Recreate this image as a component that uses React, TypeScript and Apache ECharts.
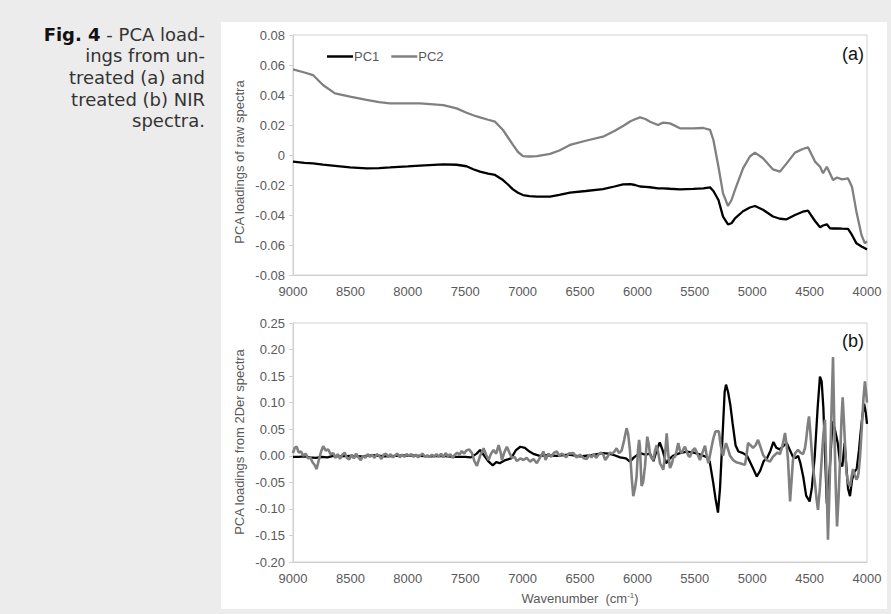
import React, { useEffect, useRef } from "react";
import * as echarts from "echarts";

// ---------- Panel (a): PCA loadings of raw spectra ----------
const rawWavenumbers = [
  9000, 8900, 8826, 8739, 8634, 8503, 8360, 8250, 8155, 8000, 7894, 7691, 7575,
  7488, 7430, 7371, 7300, 7240, 7171, 7130, 7084, 7040, 6997, 6940, 6874, 6761,
  6680, 6587, 6450, 6300, 6200, 6125, 6060, 6021, 5977, 5930, 5890, 5820, 5777,
  5716, 5629, 5513, 5425, 5367, 5338, 5294, 5254, 5211, 5180, 5150, 5080, 5020,
  4976, 4906, 4819, 4758, 4700, 4627, 4560, 4514, 4453, 4409, 4383, 4350, 4322,
  4296, 4261, 4218, 4165, 4131, 4092, 4048, 4018, 4000,
];
const rawPC1 = [
  -0.0044, -0.0052, -0.0056, -0.0064, -0.0072, -0.0082, -0.0089, -0.0087, -0.0083,
  -0.0076, -0.0071, -0.0062, -0.0065, -0.0075, -0.0095, -0.0111, -0.0124, -0.0133,
  -0.0167, -0.0195, -0.0229, -0.0252, -0.0267, -0.0274, -0.0278, -0.0278, -0.0266,
  -0.0251, -0.0240, -0.0227, -0.0210, -0.0196, -0.0194, -0.0200, -0.0210, -0.0212,
  -0.0215, -0.0222, -0.0222, -0.0225, -0.0229, -0.0226, -0.0222, -0.0216, -0.0240,
  -0.0300, -0.0411, -0.0462, -0.0455, -0.0422, -0.0375, -0.0350, -0.0340, -0.0365,
  -0.0410, -0.0425, -0.0429, -0.0400, -0.0378, -0.0371, -0.0440, -0.0482, -0.0470,
  -0.0462, -0.0489, -0.0490, -0.0489, -0.0491, -0.0493, -0.0533, -0.0589, -0.0610,
  -0.0622, -0.0630,
];
const rawPC2 = [
  0.0571, 0.0550, 0.0533, 0.0467, 0.0411, 0.0389, 0.0367, 0.0352, 0.0344, 0.0344,
  0.0344, 0.0333, 0.0311, 0.0282, 0.0265, 0.0251, 0.0235, 0.0222, 0.0167, 0.0120,
  0.0067, 0.0020, -0.0007, -0.0010, -0.0007, 0.0007, 0.0030, 0.0067, 0.0095, 0.0122,
  0.0160, 0.0193, 0.0225, 0.0238, 0.0251, 0.0240, 0.0222, 0.0200, 0.0216, 0.0211,
  0.0178, 0.0178, 0.0180, 0.0167, 0.0100, -0.0078, -0.0256, -0.0340, -0.0300,
  -0.0233, -0.0089, -0.0010, 0.0016, -0.0022, -0.0096, -0.0111, -0.0056, 0.0016,
  0.0040, 0.0051, -0.0044, -0.0078, -0.0122, -0.0078, -0.0124, -0.0167, -0.0150,
  -0.0162, -0.0156, -0.0211, -0.0378, -0.0533, -0.0589, -0.0575,
];

// ---------- Panel (b): PCA loadings from 2Der spectra ----------
const derPC1Wavenumbers = [
  9000, 8950, 8900, 8850, 8800, 8750, 8700, 8650, 8600, 8500, 8400, 8300, 8200,
  8100, 8000, 7900, 7800, 7700, 7600, 7500, 7450, 7400, 7370, 7340, 7300, 7260,
  7230, 7200, 7150, 7100, 7060, 7020, 6980, 6940, 6900, 6850, 6800, 6700, 6600,
  6500, 6400, 6300, 6250, 6200, 6150, 6100, 6065, 6030, 5980, 5930, 5890, 5860,
  5830, 5805, 5780, 5750, 5720, 5690, 5630, 5570, 5510, 5450, 5400, 5370, 5340,
  5320, 5298, 5280, 5260, 5240, 5228, 5210, 5190, 5170, 5145, 5120, 5080, 5045,
  5000, 4960, 4930, 4900, 4870, 4840, 4815, 4790, 4760, 4730, 4700, 4670, 4645,
  4620, 4600, 4580, 4555, 4530, 4500, 4480, 4455, 4430, 4410, 4395, 4380, 4365,
  4350, 4335, 4320, 4300, 4280, 4255, 4235, 4215, 4195, 4180, 4165, 4148, 4130,
  4110, 4090, 4070, 4055, 4040, 4025, 4010, 4000,
];
const derPC1 = [
  -0.002, -0.002, -0.001, -0.003, -0.004, -0.002, -0.003, 0.0, -0.001, 0.0, -0.001,
  0.001, -0.001, 0.0, 0.001, 0.0, -0.001, 0.0, -0.002, -0.002, -0.003, 0.004, 0.011,
  0.002, -0.01, -0.018, -0.012, -0.014, -0.008, -0.005, 0.01, 0.017, 0.015, 0.008,
  0.003, 0.0, 0.001, 0.0, 0.002, -0.001, 0.001, 0.005, 0.004, 0.001, -0.003, -0.005,
  -0.011, -0.003, 0.005, 0.002, 0.004, -0.01, 0.012, 0.025, 0.01, -0.014, -0.006,
  0.0, 0.005, 0.008, 0.006, 0.002, -0.002, -0.011, -0.05, -0.08, -0.107, -0.06, 0.03,
  0.12, 0.134, 0.12, 0.095, 0.06, 0.02, 0.008, 0.005, 0.0, -0.02, -0.039, -0.028,
  -0.01, -0.004, 0.01, 0.026, 0.015, 0.012, 0.018, 0.024, 0.01, -0.002, -0.004, 0.0,
  -0.014, -0.04, -0.075, -0.086, -0.06, 0.0, 0.09, 0.149, 0.14, 0.09, 0.0, -0.09,
  -0.06, -0.008, 0.065, 0.05, 0.024, -0.013, -0.02, 0.024, -0.02, -0.062, -0.076,
  -0.045, -0.03, -0.025, 0.01, 0.045, 0.075, 0.098, 0.08, 0.06,
];

const derPC2Wavenumbers = [
  9000, 8985, 8968, 8950, 8930, 8910, 8890, 8870, 8850, 8830, 8810, 8794, 8775,
  8755, 8737, 8715, 8694, 8672, 8650, 8630, 8610, 8590, 8570, 8550, 8530, 8510,
  8490, 8470, 8450, 8430, 8410, 8390, 8370, 8350, 8330, 8310, 8290, 8270, 8250,
  8230, 8210, 8190, 8170, 8150, 8130, 8110, 8090, 8070, 8050, 8030, 8010, 7990,
  7970, 7950, 7930, 7910, 7890, 7870, 7850, 7830, 7810, 7790, 7770, 7750, 7730,
  7710, 7690, 7670, 7650, 7630, 7610, 7590, 7570, 7550, 7530, 7510, 7490, 7465,
  7441, 7420, 7398, 7370, 7340, 7318, 7296, 7275, 7253, 7230, 7209, 7190, 7180,
  7160, 7137, 7115, 7093, 7070, 7050, 7020, 6992, 6965, 6934, 6905, 6876, 6845,
  6818, 6800, 6775, 6750, 6725, 6702, 6680, 6660, 6644, 6620, 6600, 6557, 6530,
  6500, 6470, 6442, 6420, 6400, 6380, 6360, 6340, 6320, 6297, 6280, 6260, 6240,
  6220, 6200, 6181, 6160, 6137, 6115, 6094, 6080, 6065, 6050, 6036, 6020, 6007,
  5995, 5985, 5978, 5964, 5950, 5934, 5920, 5914, 5900, 5890, 5875, 5861, 5846,
  5832, 5818, 5803, 5789, 5774, 5760, 5745, 5730, 5716, 5700, 5687, 5673, 5658,
  5644, 5630, 5615, 5600, 5586, 5570, 5556, 5542, 5520, 5499, 5478, 5455, 5435,
  5411, 5396, 5382, 5360, 5338, 5320, 5307, 5290, 5275, 5254, 5240, 5228, 5210,
  5193, 5167, 5140, 5106, 5080, 5063, 5050, 5036, 5015, 4993, 4970, 4949, 4930,
  4906, 4875, 4845, 4820, 4801, 4780, 4758, 4735, 4714, 4700, 4688, 4670, 4655,
  4645, 4625, 4601, 4580, 4557, 4540, 4530, 4515, 4505, 4492, 4479, 4466, 4453,
  4440, 4427, 4410, 4392, 4380, 4366, 4353, 4340, 4325, 4310, 4296, 4285, 4272,
  4261, 4248, 4235, 4222, 4212, 4200, 4192, 4180, 4165, 4148, 4135, 4122, 4108,
  4092, 4080, 4074, 4060, 4048, 4030, 4018, 4008, 4000,
];
const derPC2 = [
  0.005, 0.015, 0.017, 0.006, 0.008, 0.0, 0.004, -0.005, -0.003, -0.012, -0.018,
  -0.025, -0.008, 0.008, 0.018, 0.01, 0.012, 0.003, 0.005, -0.004, 0.003, -0.006,
  0.002, 0.006, -0.004, -0.007, 0.002, -0.005, 0.004, -0.003, -0.008, 0.0, -0.004,
  0.003, -0.002, 0.002, -0.004, 0.003, 0.0, -0.006, 0.002, 0.004, -0.002, 0.003,
  -0.003, 0.001, 0.004, -0.003, 0.002, -0.002, 0.003, 0.0, 0.003, -0.002, 0.002,
  -0.003, 0.001, 0.004, -0.002, 0.001, -0.002, 0.002, -0.001, 0.003, -0.002, 0.004,
  -0.003, 0.005, -0.001, 0.003, -0.004, 0.002, 0.006, 0.002, 0.009, 0.004, 0.01,
  0.012, 0.005, -0.01, -0.019, 0.0, 0.014, 0.002, -0.008, 0.004, 0.011, 0.004, 0.02,
  0.005, -0.008, 0.006, 0.017, 0.006, -0.004, -0.002, -0.01, -0.005, -0.008, -0.004,
  -0.011, -0.006, -0.014, -0.002, 0.008, -0.008, 0.004, -0.002, 0.006, 0.008, 0.0,
  0.004, 0.002, -0.003, 0.004, 0.005, -0.003, 0.002, -0.004, -0.006, 0.002, -0.003,
  0.003, -0.004, 0.002, 0.006, 0.002, -0.008, -0.002, 0.006, 0.004, 0.008, 0.014,
  0.005, 0.01, 0.03, 0.052, 0.04, 0.01, -0.04, -0.076, -0.06, -0.039, 0.01, 0.03,
  0.017, -0.057, -0.05, -0.02, 0.02, 0.036, 0.02, 0.002, -0.005, -0.008, 0.01, 0.02,
  0.005, -0.014, -0.02, -0.026, 0.0, 0.042, 0.0, -0.023, -0.015, -0.003, -0.002,
  0.01, 0.024, 0.01, 0.005, 0.012, 0.017, 0.008, 0.0, -0.002, 0.01, 0.014, 0.004,
  -0.008, 0.005, 0.019, 0.0, -0.014, 0.01, 0.033, 0.046, 0.046, 0.046, 0.02, 0.0,
  0.015, 0.024, 0.012, 0.0, -0.008, -0.012, -0.014, -0.016, -0.017, 0.0, 0.024, 0.02,
  0.015, 0.02, 0.03, 0.018, 0.002, -0.008, -0.011, -0.002, 0.002, 0.006, 0.003, 0.02,
  0.043, 0.02, -0.008, -0.086, -0.04, -0.008, 0.005, 0.011, 0.006, 0.003, 0.015,
  0.03, 0.06, 0.074, 0.04, 0.002, -0.03, -0.052, -0.08, -0.102, -0.06, 0.003, 0.04,
  0.068, -0.04, -0.158, -0.05, 0.08, 0.186, 0.06, -0.06, -0.133, -0.08, -0.01, 0.07,
  0.11, 0.06, 0.024, -0.03, -0.05, -0.058, -0.04, -0.025, -0.035, -0.045, -0.04,
  -0.033, 0.0, 0.043, 0.11, 0.14, 0.12, 0.1,
];

const xTicks = { min: 4000, max: 9000, interval: 500 };
const rawY = { min: -0.08, max: 0.08, interval: 0.02 };
const derY = { min: -0.2, max: 0.25, interval: 0.05 };

const seriesNames = ["PC1", "PC2"];
const titleLines = [
  "{b|Fig. 4}{r| - PCA load-}",
  "{r|ings from un-}",
  "{r|treated (a) and}",
  "{r|treated (b) NIR}",
  "{r|spectra.}",
];

const zip = (xs: number[], ys: number[]) => xs.map((x, i) => [x, ys[i]]);

export default function App() {
  const ref = useRef<HTMLDivElement>(null);

  useEffect(() => {
    if (!ref.current) return;
    const chart = echarts.init(ref.current, null, { renderer: "svg" });
    const axisFont = "Arial";
    const titleFont = "DejaVu Sans";
    const titleSize = 18;
    const labelColor = "#595959";
    const lineGray = "#d0d0d0";
    const pc1Color = "#000000";
    const pc2Color = "#808080";

    const fmtRaw = (v: number) => (Math.abs(v) < 1e-9 ? "0" : v.toFixed(2));
    const fmtDer = (v: number) => (Math.abs(v) < 1e-9 ? 0 : v).toFixed(2);

    const xAxisBase = (gridIndex: number) => ({
      type: "value",
      gridIndex,
      inverse: true,
      min: xTicks.min,
      max: xTicks.max,
      interval: xTicks.interval,
      axisLine: { show: true, onZero: false, lineStyle: { color: lineGray } },
      axisTick: { show: false },
      splitLine: { show: false },
      axisLabel: {
        color: labelColor, fontSize: 13, fontFamily: axisFont, margin: 10,
        formatter: (v: number) => String(Math.round(v)),
      },
    });
    const yAxisBase = (gridIndex: number, r: any, fmt: (v: number) => string) => ({
      type: "value",
      gridIndex,
      min: r.min,
      max: r.max,
      interval: r.interval,
      axisLine: { show: true, onZero: false, lineStyle: { color: lineGray } },
      axisTick: { show: true, length: 4, lineStyle: { color: lineGray } },
      splitLine: { show: false },
      axisLabel: { color: labelColor, fontSize: 13, fontFamily: axisFont, margin: 8, formatter: fmt },
    });

    const titleGraphics = titleLines.map((t, i) => ({
      type: "text",
      x: 205,
      y: 34 + i * 21.7,
      style: {
        text: t,
        align: "right",
        verticalAlign: "middle",
        fill: "#333333",
        fontSize: titleSize,
        fontFamily: titleFont,
        lineHeight: 20,
        rich: {
          b: { fontWeight: "bold", fill: "#111111", fontSize: titleSize, fontFamily: titleFont, lineHeight: 20 },
          r: { fill: "#333333", fontSize: titleSize, fontFamily: titleFont, lineHeight: 20 },
        },
      },
    }));

    const option: any = {
      animation: false,
      backgroundColor: "transparent",
      grid: [
        { left: 293, top: 35, width: 574, height: 240, show: true, borderColor: lineGray, borderWidth: 1, backgroundColor: "#ffffff" },
        { left: 293, top: 323, width: 574, height: 239, show: true, borderColor: lineGray, borderWidth: 1, backgroundColor: "#ffffff" },
      ],
      legend: {
        data: seriesNames,
        left: 322,
        top: 45,
        icon: "rect",
        itemWidth: 26,
        itemHeight: 2.5,
        itemGap: 12,
        textStyle: { color: labelColor, fontSize: 13, fontFamily: axisFont, padding: [0, 0, 0, -4] },
      },
      xAxis: [xAxisBase(0), xAxisBase(1)],
      yAxis: [yAxisBase(0, rawY, fmtRaw), yAxisBase(1, derY, fmtDer)],
      series: [
        {
          name: seriesNames[1], type: "line", xAxisIndex: 0, yAxisIndex: 0,
          data: zip(rawWavenumbers, rawPC2), showSymbol: false, symbol: "none",
          lineStyle: { color: pc2Color, width: 2.3 }, itemStyle: { color: pc2Color },
        },
        {
          name: seriesNames[0], type: "line", xAxisIndex: 0, yAxisIndex: 0,
          data: zip(rawWavenumbers, rawPC1), showSymbol: false, symbol: "none",
          lineStyle: { color: pc1Color, width: 2.3 }, itemStyle: { color: pc1Color },
        },
        {
          name: seriesNames[0], type: "line", xAxisIndex: 1, yAxisIndex: 1,
          data: zip(derPC1Wavenumbers, derPC1), showSymbol: false, symbol: "none",
          lineStyle: { color: pc1Color, width: 2.3 }, itemStyle: { color: pc1Color },
        },
        {
          name: seriesNames[1], type: "line", xAxisIndex: 1, yAxisIndex: 1,
          data: zip(derPC2Wavenumbers, derPC2), showSymbol: false, symbol: "none",
          lineStyle: { color: pc2Color, width: 2.6 }, itemStyle: { color: pc2Color },
        },
      ],
      graphic: [
        ...titleGraphics,
        {
          type: "text", x: 239, y: 162, rotation: Math.PI / 2,
          style: { text: "PCA loadings of raw spectra", align: "center", verticalAlign: "middle", fill: labelColor, fontSize: 13, fontFamily: axisFont },
        },
        {
          type: "text", x: 239, y: 442, rotation: Math.PI / 2,
          style: { text: "PCA loadings from 2Der spectra", align: "center", verticalAlign: "middle", fill: labelColor, fontSize: 13, fontFamily: axisFont },
        },
        {
          type: "text", x: 580, y: 598,
          style: {
            text: "{n|Wavenumber  (cm}{sup|-1}{n|)}", align: "center", verticalAlign: "middle", fill: labelColor, fontSize: 13, fontFamily: axisFont,
            rich: {
              n: { fontSize: 13, fill: labelColor, fontFamily: axisFont },
              sup: { fontSize: 8, fill: labelColor, fontFamily: axisFont, verticalAlign: "top", padding: [0, 0, 6, 0] },
            },
          },
        },
        {
          type: "text", x: 864, y: 54,
          style: { text: "(a)", align: "right", verticalAlign: "middle", fill: "#111111", fontSize: 18, fontFamily: axisFont },
        },
        {
          type: "text", x: 864, y: 341,
          style: { text: "(b)", align: "right", verticalAlign: "middle", fill: "#111111", fontSize: 18, fontFamily: axisFont },
        },
      ],
    };
    chart.setOption(option);
    return () => chart.dispose();
  }, []);

  return (
    <div style={{ position: "fixed", left: 0, top: 0, width: 891, height: 614, background: "#ececec", overflow: "hidden" }}>
      <div style={{ position: "absolute", left: 221, top: 22, width: 666, height: 587, background: "#ffffff" }} />
      <div ref={ref} style={{ position: "absolute", left: 0, top: 0, width: 891, height: 614 }} />
    </div>
  );
}
